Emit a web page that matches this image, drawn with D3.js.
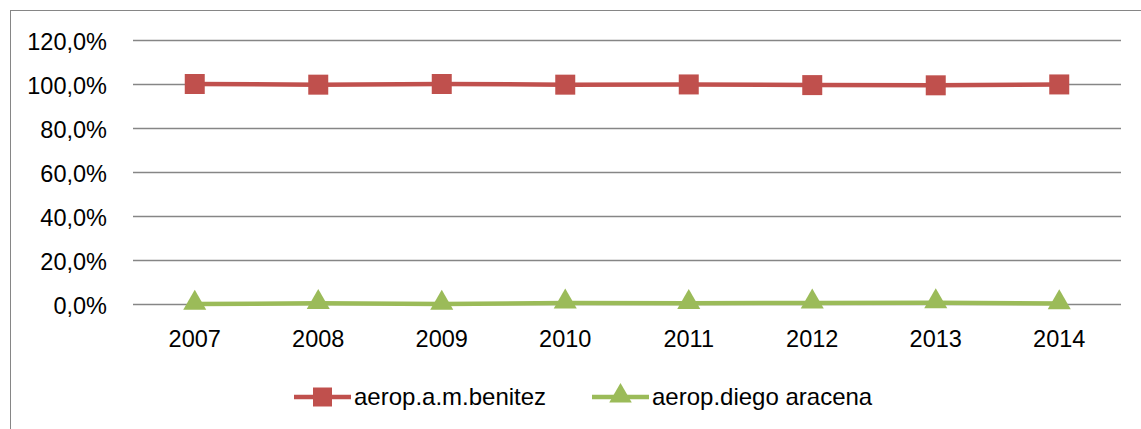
<!DOCTYPE html>
<html><head><meta charset="utf-8">
<script src="https://cdn.jsdelivr.net/npm/d3@7"></script>
<style>body{margin:0;background:#fff}svg{display:block}text{font-family:"Liberation Sans",Arial,sans-serif;fill:#000}</style>
</head><body><svg id="c" width="1141" height="429"></svg>
<script>
const years = ["2007","2008","2009","2010","2011","2012","2013","2014"];
const benitez = [100.0, 99.7, 100.0, 99.7, 99.8, 99.5, 99.4, 99.8];
const aracena = [0.0, 0.3, 0.0, 0.5, 0.3, 0.5, 0.6, 0.2];
const yTicks = [0, 20, 40, 60, 80, 100, 120];
const seriesNames = ["aerop.a.m.benitez", "aerop.diego aracena"];

const svg = d3.select("#c");
svg.append("rect").attr("x",10.5).attr("y",10.5).attr("width",1200).attr("height",500)
  .attr("fill","#fff").attr("stroke","#868686").attr("stroke-width",1);

const x = d3.scaleBand().domain(years).range([133,1121]);
const y = d3.scaleLinear().domain([0,120]).range([304,40]);
const fmt = v => d3.format(".1f")(v).replace(".", ",") + "%";

const yAxis = svg.append("g").attr("transform","translate(133,0)")
  .call(d3.axisLeft(y).tickValues(yTicks).tickFormat(fmt).tickSize(-988).tickPadding(26));
yAxis.select(".domain").remove();
yAxis.selectAll("line").attr("stroke","#868686").attr("stroke-width",1.3);
yAxis.selectAll("text").style("font-size","23.5px").attr("dy","0.42em");

const xAxis = svg.append("g").attr("transform","translate(0,304)")
  .call(d3.axisBottom(x).tickSize(0).tickPadding(26));
xAxis.select(".domain").remove();
xAxis.selectAll("text").style("font-size","23.5px");

const cx = d => x(d) + x.bandwidth()/2;
const line = d3.line().x((d,i)=>cx(years[i])).y(d=>y(d));

const red = "#C0504D", green = "#9BBB59";
svg.append("path").datum(benitez).attr("d",line).attr("fill","none").attr("stroke",red).attr("stroke-width",4.5);
svg.append("path").datum(aracena).attr("d",line).attr("fill","none").attr("stroke",green).attr("stroke-width",4.5);

const sq = d3.symbol().type(d3.symbolSquare).size(400);
const tri = d3.symbol().type(d3.symbolTriangle).size(230);
svg.selectAll(".m1").data(benitez).enter().append("path")
  .attr("transform",(d,i)=>`translate(${cx(years[i])},${y(d)})`).attr("d",sq).attr("fill",red);
svg.selectAll(".m2").data(aracena).enter().append("path")
  .attr("transform",(d,i)=>`translate(${cx(years[i])},${y(d)-1})`).attr("d",tri).attr("fill",green);

// legend
const sqL = d3.symbol().type(d3.symbolSquare).size(361);
const triL = d3.symbol().type(d3.symbolTriangle).size(220);
const lg = [{name:seriesNames[0],c:red,s:sqL,x0:294},{name:seriesNames[1],c:green,s:triL,x0:592}];
lg.forEach(l=>{
  svg.append("line").attr("x1",l.x0).attr("x2",l.x0+57).attr("y1",397).attr("y2",397).attr("stroke",l.c).attr("stroke-width",4.5);
  svg.append("path").attr("transform",`translate(${l.x0+28.5},${l.s===triL?396:397})`).attr("d",l.s).attr("fill",l.c);
  svg.append("text").attr("x",l.x0+60).attr("y",397).attr("dy","0.35em").style("font-size","24px").text(l.name);
});
</script></body></html>
